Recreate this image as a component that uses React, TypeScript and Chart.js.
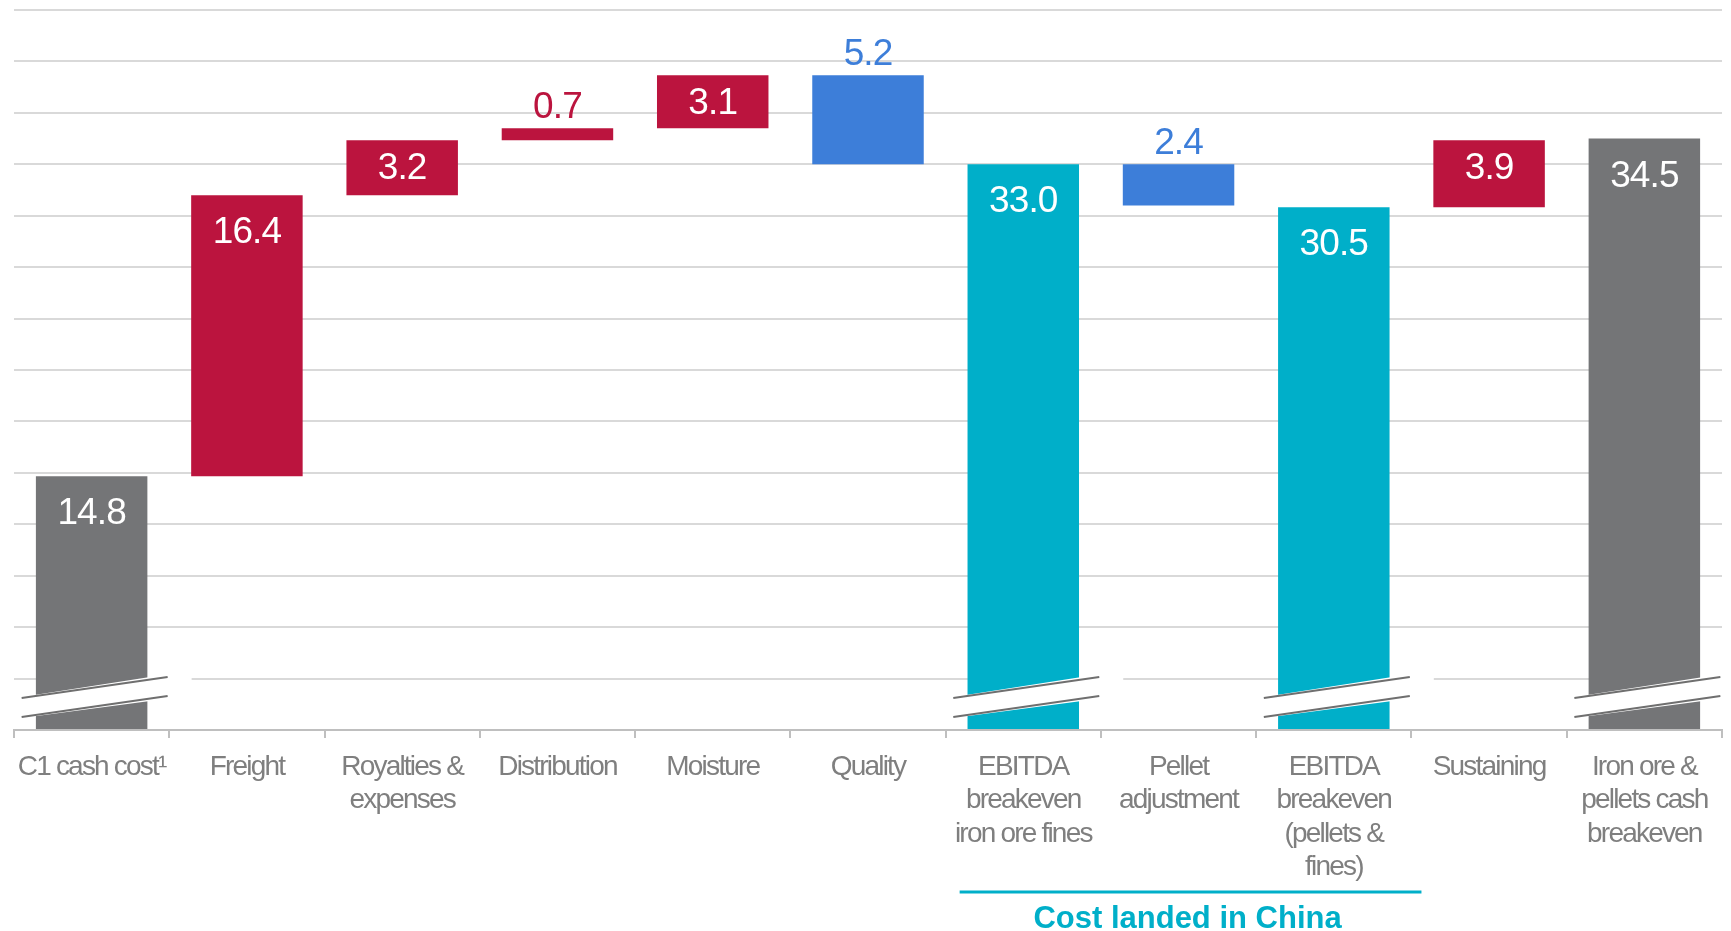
import React, { useEffect, useRef } from "react";
import { Chart, registerables } from "chart.js";

Chart.register(...registerables);

const categories: (string | string[])[] = [
  "C1 cash cost¹",
  "Freight",
  ["Royalties &", "expenses"],
  "Distribution",
  "Moisture",
  "Quality",
  ["EBITDA", "breakeven", "iron ore fines"],
  ["Pellet", "adjustment"],
  ["EBITDA", "breakeven", "(pellets &", "fines)"],
  "Sustaining",
  ["Iron ore &", "pellets cash", "breakeven"],
];

// floating bar ranges [low, high]
const barLow = [0, 14.8, 31.2, 34.4, 35.1, 33.0, 0, 30.6, 0, 30.5, 0];
const barHigh = [14.8, 31.2, 34.4, 35.1, 38.2, 38.2, 33.0, 33.0, 30.5, 34.4, 34.5];
const valueLabels = ["14.8", "16.4", "3.2", "0.7", "3.1", "5.2", "33.0", "2.4", "30.5", "3.9", "34.5"];
// kind: total (gray), up (red), down (blue), sub (cyan)
const kinds = ["total", "up", "up", "up", "up", "down", "sub", "down", "sub", "up", "total"];
const labelOutside = [false, false, false, true, false, true, false, true, false, false, false];
const brokenBars = [0, 6, 8, 10];
const bracketText = "Cost landed in China";
const bracketFrom = 6;
const bracketTo = 9;

const kindColor: Record<string, string> = {
  total: "#747577",
  up: "#BB143E",
  down: "#3D7ED9",
  sub: "#00AFC9",
};

const FONT = "'Liberation Sans', Arial, sans-serif";

const decoPlugin = {
  id: "deco",
  beforeDraw(chart: any) {
    chart.ctx.letterSpacing = "-1.8px";
  },
  afterDatasetsDraw(chart: any) {
    const ctx = chart.ctx as CanvasRenderingContext2D;
    const meta = chart.getDatasetMeta(0);
    const xs = chart.scales.x;
    const ys = chart.scales.y;
    const catW = xs.getPixelForValue(1) - xs.getPixelForValue(0);
    const axisY = ys.getPixelForValue(0);

    // break marks
    brokenBars.forEach((i) => {
      const el = meta.data[i];
      const cx = el.x;
      const x0 = cx - 70;
      const x1 = cx + 76;
      const slope = -0.144;
      const upAtC = axisY - 42;
      const loAtC = axisY - 23;
      const yU = (x: number) => upAtC + slope * (x - cx);
      const yL = (x: number) => loAtC + slope * (x - cx);
      const xe = x1 + 24;
      ctx.save();
      ctx.fillStyle = "#ffffff";
      ctx.beginPath();
      ctx.moveTo(x0, yU(x0) - 1);
      ctx.lineTo(xe, yU(xe) - 3);
      ctx.lineTo(xe, yL(xe) + 3);
      ctx.lineTo(x0, yL(x0) + 1);
      ctx.closePath();
      ctx.fill();
      ctx.strokeStyle = "#6f6f6f";
      ctx.lineWidth = 2;
      ctx.beginPath();
      ctx.moveTo(x0, yU(x0));
      ctx.lineTo(x1, yU(x1));
      ctx.moveTo(x0, yL(x0));
      ctx.lineTo(x1, yL(x1));
      ctx.stroke();
      ctx.restore();
    });

    // value labels
    ctx.save();
    ctx.letterSpacing = "-0.9px";
    ctx.font = `37px ${FONT}`;
    ctx.textAlign = "center";
    meta.data.forEach((el: any, i: number) => {
      const top = ys.getPixelForValue(barHigh[i]);
      const bot = ys.getPixelForValue(barLow[i]);
      const h = bot - top;
      if (labelOutside[i]) {
        ctx.fillStyle = kindColor[kinds[i]];
        ctx.textBaseline = "alphabetic";
        ctx.fillText(valueLabels[i], el.x, top - 10);
      } else {
        ctx.fillStyle = "#ffffff";
        ctx.textBaseline = "middle";
        const off = h < 100 ? 29 : 38;
        ctx.fillText(valueLabels[i], el.x, top + off);
      }
    });
    ctx.restore();

    // bracket
    const lx0 = xs.getPixelForValue(bracketFrom) - catW / 2 + 14;
    const lx1 = xs.getPixelForValue(bracketTo) - catW / 2 + 10;
    ctx.save();
    ctx.fillStyle = "#00AFC9";
    ctx.fillRect(lx0, 890.5, lx1 - lx0, 3);
    ctx.letterSpacing = "0px";
    ctx.font = `bold 31px ${FONT}`;
    ctx.textAlign = "center";
    ctx.textBaseline = "middle";
    ctx.fillText(bracketText, (lx0 + lx1) / 2 - 3, 919);
    ctx.restore();
  },
};

export default function App() {
  const ref = useRef<HTMLCanvasElement | null>(null);
  useEffect(() => {
    if (!ref.current) return;
    const chart = new Chart(ref.current, {
      type: "bar",
      data: {
        labels: categories,
        datasets: [
          {
            data: barLow.map((lo, i) => [lo, barHigh[i]]) as any,
            backgroundColor: kinds.map((k) => kindColor[k]),
            borderWidth: 0,
            barPercentage: 0.718,
            categoryPercentage: 1,
          },
        ],
      },
      options: {
        responsive: false,
        animation: false,
        maintainAspectRatio: false,
        layout: { padding: { left: 14, right: 9, top: 10, bottom: 0 } },
        plugins: {
          legend: { display: false },
          tooltip: { enabled: false },
          title: { display: false },
        },
        scales: {
          x: {
            grid: {
              display: true,
              drawOnChartArea: false,
              drawTicks: true,
              tickLength: 8,
              offset: true,
              color: "#bfbfbf",
              lineWidth: 2,
            },
            border: { display: true, color: "#bfbfbf", width: 2 },
            ticks: {
              autoSkip: false,
              maxRotation: 0,
              minRotation: 0,
              padding: 12,
              color: "#7f7f7f",
              font: { family: FONT, size: 28, lineHeight: 1.2 },
            },
            afterFit: (scale: any) => {
              scale.height = 201;
              scale.paddingLeft = 0;
              scale.paddingRight = 0;
            },
          },
          y: {
            min: 0,
            max: 42,
            ticks: { display: false, stepSize: 3 },
            grid: { color: "#d9d9d9", lineWidth: 2, drawTicks: false },
            border: { display: false },
            afterFit: (scale: any) => {
              scale.width = 0;
            },
          },
        },
      },
      plugins: [decoPlugin],
    });
    return () => chart.destroy();
  }, []);
  return (
    <div style={{ position: "absolute", left: 0, top: 0, width: 1731, height: 931, background: "#fff" }}>
      <canvas ref={ref} width={1731} height={931} style={{ display: "block" }} />
    </div>
  );
}
